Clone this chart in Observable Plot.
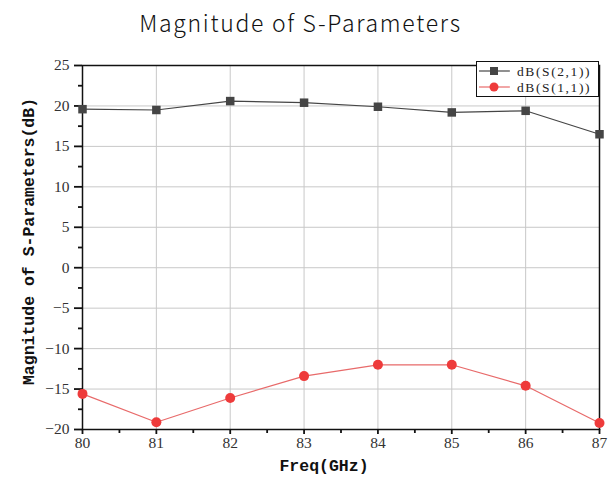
<!DOCTYPE html>
<html><head><meta charset="utf-8">
<script src="https://cdn.jsdelivr.net/npm/d3@7"></script>
<script src="https://cdn.jsdelivr.net/npm/@observablehq/plot@0.6"></script>
<style>
body{margin:0;background:#fff;}
#wrap{position:relative;width:613px;height:483px;}
#title{height:45px;line-height:44px;text-align:center;font-family:"Noto Sans CJK SC","Noto Sans",sans-serif;font-weight:300;font-size:23px;letter-spacing:1.7px;color:#111;padding-right:12px;}
#legend{position:absolute;left:476px;top:61px;width:121px;height:34px;border:1.5px solid #111;background:#fff;}
</style></head>
<body>
<div id="wrap">
<div id="title">Magnitude of S-Parameters</div>
<div id="chart"></div>
<div id="legend"></div>
</div>
<script>
const freq = [80, 81, 82, 83, 84, 85, 86, 87];
const s21 = [19.6, 19.5, 20.6, 20.4, 19.9, 19.2, 19.4, 16.5];
const s11 = [-15.6, -19.1, -16.1, -13.4, -12.0, -12.0, -14.6, -19.2];
const seriesNames = ["dB(S(2,1))", "dB(S(1,1))"];
const yTicks = [-20, -15, -10, -5, 0, 5, 10, 15, 20, 25];
const xTicks = [80, 81, 82, 83, 84, 85, 86, 87];
const yMinor = [-17.5, -12.5, -7.5, -2.5, 2.5, 7.5, 12.5, 17.5, 22.5];
const xMinor = [80.5, 81.5, 82.5, 83.5, 84.5, 85.5, 86.5];

const d21 = freq.map((f, i) => ({f, v: s21[i]}));
const d11 = freq.map((f, i) => ({f, v: s11[i]}));
const gray = "#454545", red = "#ee3b3b", redLine = "#e86a6a";
const fmt = d => d < 0 ? "\u2212" + Math.abs(d) : String(d);
const serif = "'Liberation Serif', 'DejaVu Serif', serif";

const chart = Plot.plot({
  width: 613, height: 438,
  marginLeft: 82, marginRight: 14, marginTop: 20, marginBottom: 54,
  style: {fontFamily: serif, fontSize: "15.5px", color: "#333", overflow: "visible"},
  x: {domain: [80, 87]},
  y: {domain: [-20, 25]},
  marks: [
    Plot.gridX(xTicks, {stroke: "#c8c8c8", strokeOpacity: 1}),
    Plot.gridY(yTicks, {stroke: "#c8c8c8", strokeOpacity: 1}),
    Plot.frame({stroke: "#111", strokeWidth: 1.5}),
    Plot.axisY({ticks: yTicks, tickSize: 8, tickPadding: 5, tickFormat: fmt, fontFamily: serif, fontSize: 15.5, stroke: "#111", strokeWidth: 1.8, label: null}),
    Plot.axisY({ticks: yMinor, tickSize: 4, tickFormat: () => "", stroke: "#111", strokeWidth: 1.8, label: null}),
    Plot.axisX({ticks: xTicks, tickSize: 5, tickPadding: 2, tickFormat: d => String(d), fontFamily: serif, fontSize: 15.5, stroke: "#111", strokeWidth: 1.8, label: null}),
    Plot.axisX({ticks: xMinor, tickSize: 4, tickFormat: () => "", stroke: "#111", strokeWidth: 1.8, label: null}),
    Plot.line(d21, {x: "f", y: "v", stroke: gray, strokeWidth: 1.2}),
    Plot.line(d11, {x: "f", y: "v", stroke: redLine, strokeWidth: 1.2}),
    Plot.dot(d21, {x: "f", y: "v", symbol: "square", r: 4.8, fill: gray, stroke: "none"}),
    Plot.dot(d11, {x: "f", y: "v", symbol: "circle", r: 5, fill: red, stroke: "none"}),
    Plot.text(["Magnitude of S-Parameters(dB)"], {frameAnchor: "left", textAnchor: "middle", dx: -54, dy: -6, rotate: -90, fontFamily: "'Liberation Mono', monospace", fontWeight: "bold", fontSize: 16.5, fill: "#111"}),
    Plot.text(["Freq(GHz)"], {frameAnchor: "bottom", dx: -17, dy: 41, fontFamily: "'Liberation Mono', monospace", fontWeight: "bold", fontSize: 16.5, fill: "#111"})
  ]
});
document.getElementById("chart").appendChild(chart);

// Legend
const lg = d3.select("#legend").append("svg").attr("width", 121).attr("height", 34);
const items = [{name: seriesNames[0], color: gray, line: gray, sym: "square"}, {name: seriesNames[1], color: red, line: redLine, sym: "circle"}];
items.forEach((it, i) => {
  const g = lg.append("g").attr("transform", `translate(0,${9 + i * 16})`);
  g.append("line").attr("x1", 2).attr("x2", 33).attr("y1", 0).attr("y2", 0).attr("stroke", it.line).attr("stroke-width", 1.2);
  if (it.sym === "square") g.append("rect").attr("x", 13).attr("y", -4).attr("width", 8).attr("height", 8).attr("fill", it.color);
  else g.append("circle").attr("cx", 17).attr("cy", 0).attr("r", 4.5).attr("fill", it.color);
  g.append("text").attr("x", 40).attr("y", 4.5).attr("font-family", serif).attr("font-size", 13.5).attr("letter-spacing", "1.6px").attr("fill", "#222").text(it.name);
});
</script>
</body></html>
